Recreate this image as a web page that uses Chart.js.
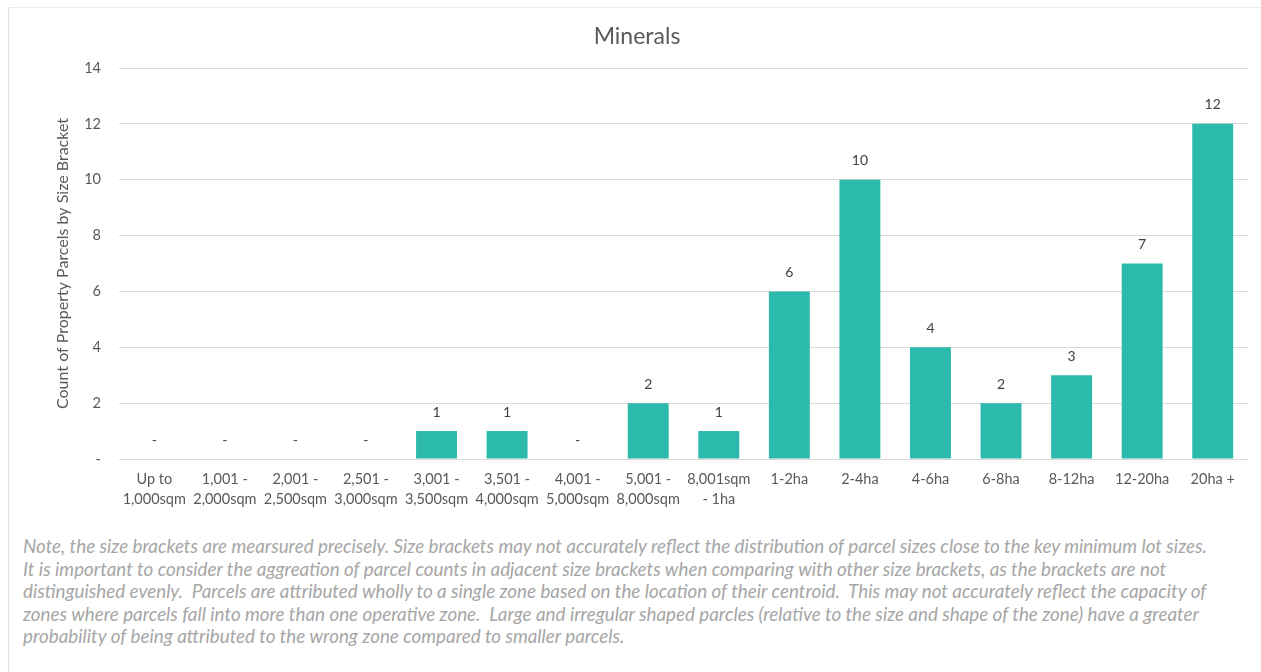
<!DOCTYPE html>
<html>
<head>
<meta charset="utf-8">
<title>Minerals</title>
<script src="https://cdn.jsdelivr.net/npm/chart.js@4.4.1/dist/chart.umd.min.js"></script>
<style>
  html, body { margin: 0; padding: 0; background: #ffffff; }
  #wrap { position: relative; width: 1261px; height: 672px; overflow: hidden; }
  #frame { position: absolute; left: 8px; top: 7px; right: 0; bottom: 0;
           border-left: 1px solid #e3e3e3; border-top: 1px solid #ececec; }
  #chartBox { position: absolute; left: 0; top: 0; width: 1261px; height: 520px; }
  #note { position: absolute; left: 23px; top: 535px; width: 1235px;
          font-family: Lato, "Open Sans", sans-serif; font-style: italic;
          font-size: 18.8px; line-height: 22.5px; color: #a6a6a6; white-space: nowrap; }
</style>
</head>
<body>
<div id="wrap">
  <div id="frame"></div>
  <div id="chartBox"><canvas id="c" width="1261" height="520"></canvas></div>
  <div id="note">Note, the size brackets are mearsured precisely. Size brackets may not accurately reflect the distribution of parcel sizes close to the key minimum lot sizes.<br>It is important to consider the aggreation of parcel counts in adjacent size brackets when comparing with other size brackets, as the brackets are not<br>distinguished evenly.&nbsp; Parcels are attributed wholly to a single zone based on the location of their centroid.&nbsp; This may not accurately reflect the capacity of<br>zones where parcels fall into more than one operative zone.&nbsp; Large and irregular shaped parcles (relative to the size and shape of the zone) have a greater<br>probability of being attributed to the wrong zone compared to smaller parcels.</div>
</div>
<script>
// Size brackets (two-line labels) and parcel counts
const categories = [
  ["Up to", "1,000sqm"], ["1,001 -", "2,000sqm"], ["2,001 -", "2,500sqm"], ["2,501 -", "3,000sqm"],
  ["3,001 -", "3,500sqm"], ["3,501 -", "4,000sqm"], ["4,001 -", "5,000sqm"], ["5,001 -", "8,000sqm"],
  ["8,001sqm", "- 1ha"], "1-2ha", "2-4ha", "4-6ha", "6-8ha", "8-12ha", "12-20ha", "20ha +"
];
const parcelCounts = [0, 0, 0, 0, 1, 1, 0, 2, 1, 6, 10, 4, 2, 3, 7, 12];
const yTicks = [0, 2, 4, 6, 8, 10, 12, 14];

const FONT = 'Lato, "Open Sans", sans-serif';
const TEXT = '#595959';

// Accounting-style number: zero shown as a dash
const fmt = v => (v === 0 ? '-' : String(v));

// Value labels above each bar
const valueLabels = {
  id: 'valueLabels',
  afterDatasetsDraw(chart) {
    const ctx = chart.ctx;
    const meta = chart.getDatasetMeta(0);
    ctx.save();
    ctx.font = '14px ' + FONT;
    ctx.fillStyle = '#404040';
    ctx.textAlign = 'center';
    ctx.textBaseline = 'middle';
    meta.data.forEach((bar, i) => {
      ctx.fillText(fmt(parcelCounts[i]), bar.x, bar.y - 19);
    });
    ctx.restore();
  }
};

new Chart(document.getElementById('c'), {
  type: 'bar',
  data: {
    labels: categories,
    datasets: [{
      label: 'Minerals',
      data: parcelCounts,
      backgroundColor: '#2bbaac',
      borderWidth: 0,
      categoryPercentage: 1.0,
      barPercentage: 0.58
    }]
  },
  options: {
    responsive: false,
    animation: false,
    layout: { padding: { left: 26, right: 13, top: 0, bottom: 0 } },
    plugins: {
      legend: { display: false },
      tooltip: { enabled: false },
      title: {
        display: true,
        text: 'Minerals',
        color: TEXT,
        font: { family: FONT, size: 23, weight: 'normal' },
        padding: { top: 23, bottom: 17.4 }
      }
    },
    scales: {
      x: {
        grid: { display: false },
        border: { display: false },
        ticks: {
          color: TEXT,
          font: { family: FONT, size: 14.5, lineHeight: 1.38 },
          padding: 2,
          maxRotation: 0,
          autoSkip: false
        },
        afterFit(scale) { scale.height = 61; }
      },
      y: {
        min: 0,
        max: 14,
        afterBuildTicks(scale) { scale.ticks = yTicks.map(v => ({ value: v })); },
        grid: { color: '#d9d9d9', lineWidth: 1, drawTicks: false },
        border: { display: false },
        ticks: {
          color: TEXT,
          font: { family: FONT, size: 14.5 },
          padding: 18,
          callback: v => fmt(v)
        },
        title: {
          display: true,
          text: 'Count of Property Parcels by Size Bracket',
          color: TEXT,
          font: { family: FONT, size: 16 },
          padding: { top: 27, bottom: 0 }
        },
        afterFit(scale) { scale.width = 93; }
      }
    }
  },
  plugins: [valueLabels]
});
</script>
</body>
</html>
